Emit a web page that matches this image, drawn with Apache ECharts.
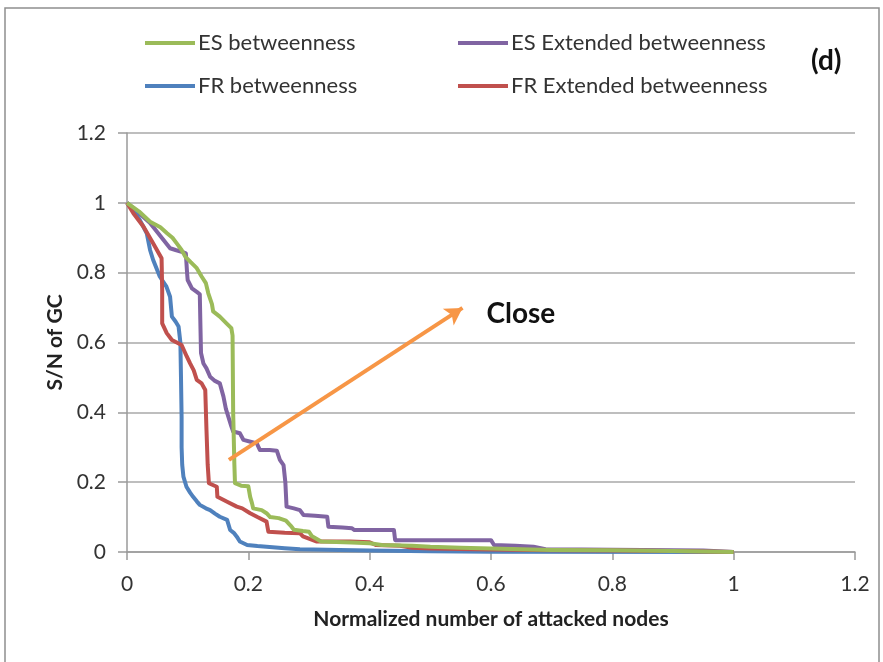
<!DOCTYPE html>
<html>
<head>
<meta charset="utf-8">
<script src="https://cdn.jsdelivr.net/npm/echarts@6/dist/echarts.min.js"></script>
<style>
  html, body { margin: 0; padding: 0; background: #fff; }
  #chart { width: 883px; height: 662px; }
</style>
</head>
<body>
<div id="chart"></div>
<script>
// Giant-component size vs. fraction of attacked nodes, four attack strategies.
const seriesNames = ['ES betweenness', 'ES Extended betweenness', 'FR betweenness', 'FR Extended betweenness'];
const seriesColors = ['#9BBB59', '#8064A2', '#4F81BD', '#C0504D'];

const xTicks = [0, 0.2, 0.4, 0.6, 0.8, 1, 1.2];
const yTicks = [0, 0.2, 0.4, 0.6, 0.8, 1, 1.2];

// [fraction removed, S/N of giant component]
const esBetweenness = [
  [0,1],[0.02,0.975],[0.038,0.946],[0.055,0.93],[0.066,0.913],[0.075,0.9],[0.082,0.884],
  [0.09,0.865],[0.096,0.846],[0.105,0.83],[0.115,0.813],[0.123,0.789],[0.13,0.77],
  [0.134,0.741],[0.14,0.71],[0.142,0.689],[0.153,0.674],[0.164,0.655],[0.172,0.641],
  [0.174,0.62],[0.175,0.4],[0.177,0.25],[0.178,0.197],[0.188,0.19],[0.2,0.188],
  [0.203,0.158],[0.206,0.14],[0.208,0.125],[0.222,0.12],[0.23,0.111],[0.236,0.1],
  [0.25,0.097],[0.262,0.09],[0.27,0.075],[0.275,0.064],[0.29,0.06],[0.3,0.058],
  [0.305,0.045],[0.32,0.03],[0.37,0.027],[0.4,0.025],[0.42,0.02],[0.47,0.018],
  [0.5,0.015],[0.55,0.012],[0.6,0.01],[0.65,0.008],[0.7,0.006],[0.8,0.005],
  [0.9,0.003],[1,0]
];

const esExtended = [
  [0,1],[0.02,0.97],[0.038,0.942],[0.055,0.905],[0.071,0.87],[0.08,0.865],[0.09,0.86],
  [0.097,0.855],[0.099,0.8],[0.1,0.779],[0.107,0.755],[0.115,0.745],[0.12,0.738],
  [0.121,0.65],[0.122,0.57],[0.126,0.54],[0.131,0.526],[0.137,0.502],[0.145,0.49],
  [0.153,0.483],[0.159,0.445],[0.163,0.41],[0.167,0.388],[0.172,0.36],[0.175,0.345],
  [0.186,0.34],[0.192,0.321],[0.205,0.315],[0.214,0.311],[0.219,0.292],[0.235,0.292],
  [0.247,0.29],[0.252,0.264],[0.258,0.249],[0.261,0.2],[0.263,0.13],[0.275,0.125],
  [0.285,0.12],[0.291,0.106],[0.31,0.104],[0.33,0.101],[0.332,0.072],[0.355,0.07],
  [0.371,0.068],[0.375,0.063],[0.44,0.063],[0.442,0.034],[0.5,0.034],[0.6,0.034],
  [0.605,0.02],[0.64,0.018],[0.67,0.015],[0.69,0.008],[0.75,0.007],[0.85,0.006],
  [0.95,0.004],[1,0]
];

const frBetweenness = [
  [0,1],[0.01,0.98],[0.021,0.951],[0.0325,0.913],[0.038,0.865],[0.043,0.837],
  [0.054,0.789],[0.065,0.76],[0.071,0.731],[0.074,0.674],[0.08,0.66],[0.085,0.646],
  [0.088,0.6],[0.089,0.5],[0.09,0.388],[0.09,0.3],[0.091,0.25],[0.093,0.216],
  [0.098,0.187],[0.104,0.17],[0.109,0.158],[0.115,0.145],[0.12,0.135],[0.13,0.125],
  [0.137,0.12],[0.145,0.11],[0.153,0.101],[0.165,0.092],[0.17,0.063],[0.176,0.055],
  [0.181,0.044],[0.186,0.03],[0.198,0.02],[0.215,0.017],[0.23,0.015],[0.26,0.011],
  [0.285,0.008],[0.35,0.006],[0.4,0.004],[0.5,0.002],[0.6,0.001],[1,0]
];

const frExtended = [
  [0,1],[0.0105,0.97],[0.027,0.932],[0.043,0.884],[0.057,0.841],[0.058,0.75],
  [0.058,0.655],[0.0655,0.627],[0.074,0.607],[0.09,0.593],[0.0985,0.56],[0.104,0.54],
  [0.11,0.52],[0.115,0.493],[0.123,0.483],[0.129,0.464],[0.131,0.35],[0.133,0.25],
  [0.135,0.197],[0.148,0.187],[0.149,0.158],[0.165,0.144],[0.181,0.13],[0.19,0.125],
  [0.203,0.111],[0.215,0.1],[0.23,0.087],[0.233,0.058],[0.26,0.055],[0.285,0.054],
  [0.29,0.045],[0.313,0.03],[0.34,0.03],[0.368,0.03],[0.4,0.028],[0.41,0.02],
  [0.45,0.018],[0.47,0.012],[0.5,0.01],[0.6,0.007],[0.7,0.005],[0.8,0.004],
  [0.9,0.003],[1,0]
];

const seriesValues = [esBetweenness, esExtended, frBetweenness, frExtended];

// Annotation arrow (data coordinates) and its caption
const arrowFrom = [0.168, 0.264];
const arrowTo = [0.553, 0.699];
const arrowColor = '#F79646';
const arrowCaption = 'Close';
const panelTag = '(d)';

const FONT = 'Lato';

const chart = echarts.init(document.getElementById('chart'), null, { renderer: 'canvas' });

// One legend per entry so the four keys sit in a 2x2 block
const legendSlots = [
  { left: 145, top: 32 },
  { left: 458, top: 32 },
  { left: 145, top: 75 },
  { left: 458, top: 75 }
];
const legends = seriesNames.map((name, i) => ({
  data: [name],
  left: legendSlots[i].left,
  top: legendSlots[i].top,
  icon: 'rect',
  itemWidth: 50,
  itemHeight: 4,
  padding: 0,
  selectedMode: false,
  textStyle: { fontFamily: FONT, fontSize: 22, color: '#333', padding: [0, 0, 0, -2] }
}));

const lineSeries = seriesNames.map((name, i) => ({
  name: name,
  type: 'line',
  data: seriesValues[i],
  showSymbol: false,
  symbol: 'none',
  z: 3 + (i === 0 ? 1 : 0),
  lineStyle: { color: seriesColors[i], width: 4, join: 'round' },
  itemStyle: { color: seriesColors[i] },
  animation: false
}));

lineSeries.push({
  name: 'arrow',
  type: 'line',
  data: [],
  animation: false,
  markLine: {
    silent: true,
    animation: false,
    symbol: ['none', 'arrow'],
    symbolSize: [15, 17],
    lineStyle: { color: arrowColor, width: 4, type: 'solid' },
    label: { show: false },
    data: [[{ coord: arrowFrom }, { coord: arrowTo }]]
  },
  markPoint: {
    silent: true,
    animation: false,
    symbolSize: 0,
    data: [{ coord: arrowTo, value: arrowCaption }],
    label: {
      show: true,
      formatter: arrowCaption,
      position: 'right',
      offset: [19, 6],
      fontFamily: FONT,
      fontWeight: 'bold',
      fontSize: 28,
      color: '#111'
    }
  }
});

const option = {
  backgroundColor: '#fff',
  animation: false,
  legend: legends,
  grid: { left: 127, right: 28, top: 133, bottom: 110, containLabel: false },
  xAxis: {
    type: 'value',
    min: xTicks[0],
    max: xTicks[xTicks.length - 1],
    interval: 0.2,
    name: 'Normalized number of attacked nodes',
    nameLocation: 'middle',
    nameGap: 57,
    nameTextStyle: { fontFamily: FONT, fontWeight: 'bold', fontSize: 21, color: '#222' },
    axisLine: { show: true, onZero: false, lineStyle: { color: '#9a9a9a', width: 1.5 } },
    axisTick: { show: true, inside: false, length: 8, lineStyle: { color: '#9a9a9a', width: 1.5 } },
    axisLabel: {
      fontFamily: FONT, fontSize: 21, color: '#333', margin: 22,
      formatter: v => String(+v.toFixed(1))
    },
    splitLine: { show: false }
  },
  yAxis: {
    type: 'value',
    min: yTicks[0],
    max: yTicks[yTicks.length - 1],
    interval: 0.2,
    name: 'S/N of GC',
    nameLocation: 'middle',
    nameRotate: 90,
    nameGap: 60,
    nameTextStyle: { fontFamily: FONT, fontWeight: 'bold', fontSize: 21, color: '#222' },
    axisLine: { show: true, onZero: false, lineStyle: { color: '#9a9a9a', width: 1.5 } },
    axisTick: { show: true, inside: false, length: 9, lineStyle: { color: '#9a9a9a', width: 1.5 } },
    axisLabel: {
      fontFamily: FONT, fontSize: 21, color: '#333', margin: 21,
      formatter: v => String(+v.toFixed(1))
    },
    splitLine: { show: true, lineStyle: { color: '#a8a8a8', width: 1.5 } }
  },
  graphic: [
    // thin frame around the panel
    { type: 'polyline', silent: true, z: 0,
      shape: { points: [[5, 662], [5, 8], [879, 8], [879, 662]] },
      style: { stroke: '#8f8f8f', lineWidth: 1.5, fill: null } },
    { type: 'text', silent: true, left: 811, top: 47,
      style: { text: panelTag, fontFamily: FONT, fontWeight: 'bold', fontSize: 28, fill: '#111' } }
  ],
  series: lineSeries
};

chart.setOption(option);
</script>
</body>
</html>
